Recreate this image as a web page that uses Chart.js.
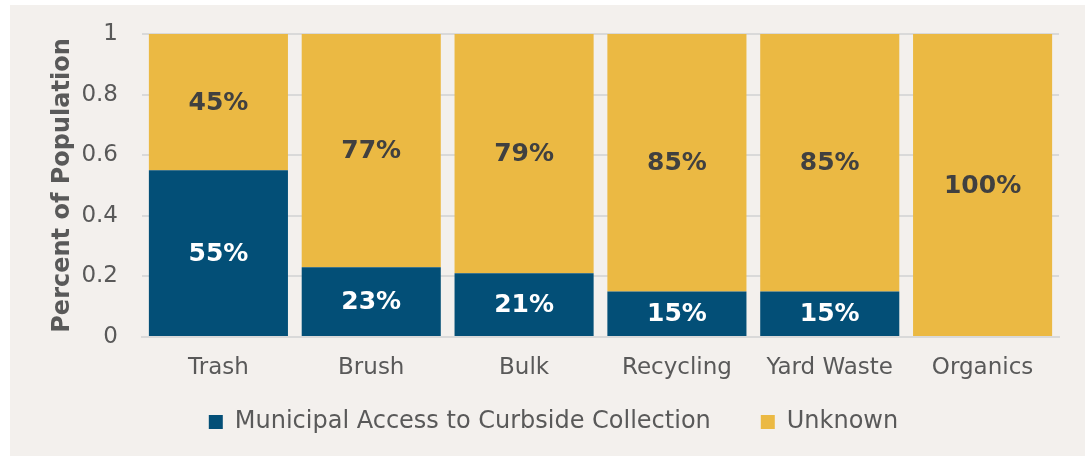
<!DOCTYPE html>
<html>
<head>
<meta charset="utf-8">
<script src="https://cdn.jsdelivr.net/npm/chart.js@4"></script>
<style>
    html, body { margin: 0; padding: 0; background: #ffffff; }
    #panel { position: absolute; left: 10px; top: 5px; width: 1075px; height: 451px; background: #f3f0ed; }
</style>
</head>
<body>
<div id="panel"><canvas id="wasteChart" width="1075" height="451"></canvas></div>
<script>
var categories = ["Trash", "Brush", "Bulk", "Recycling", "Yard Waste", "Organics"];
var municipal = [0.55, 0.23, 0.21, 0.15, 0.15, 0];
var unknown = [0.45, 0.77, 0.79, 0.85, 0.85, 1.0];
var seriesNames = ["Municipal Access to Curbside Collection", "Unknown"];

var fontFamily = "'DejaVu Sans', Verdana, sans-serif"

// draw the percent labels in the middle of each bar segment
var barLabels = {
    id: "barLabels",
    afterDatasetsDraw(chart) {
        var ctx = chart.ctx
        ctx.save()
        ctx.font = "bold 25px " + fontFamily
        ctx.textAlign = "center"
        ctx.textBaseline = "middle"
        chart.data.datasets.forEach((ds, i) => {
            var meta = chart.getDatasetMeta(i)
            meta.data.forEach((bar, j) => {
                var v = ds.data[j]
                if (!v) return
                var p = bar.getCenterPoint()
                ctx.fillStyle = i == 0 ? "#ffffff" : "#404040"
                ctx.fillText(Math.round(v * 100) + "%", p.x, p.y + 1)
            })
        })
        ctx.restore()
    }
}

// legend padding is wide for the gap between items, so pull it up a bit
var legendLift = {
    id: "legendLift",
    afterLayout(chart) {
        chart.legend.top -= 23
        chart.legend.bottom -= 23
    }
}

new Chart(document.getElementById("wasteChart").getContext("2d"), {
    type: "bar",
    data: {
        labels: categories,
        datasets: [
            { label: seriesNames[0], data: municipal, backgroundColor: "#034f77" },
            { label: seriesNames[1], data: unknown, backgroundColor: "#ebb943" },
        ],
    },
    options: {
        responsive: false,
        animation: false,
        devicePixelRatio: 1,
        barPercentage: 0.91,
        categoryPercentage: 1.0,
        layout: { padding: { top: 29, right: 26, bottom: -11, left: 38 } },
        plugins: {
            tooltip: { enabled: false },
            legend: {
                position: "bottom",
                labels: {
                    boxWidth: 14,
                    boxHeight: 14,
                    padding: 50,
                    color: "#595959",
                    font: { family: fontFamily, size: 24 },
                },
            },
        },
        scales: {
            x: {
                stacked: true,
                grid: { display: false, drawTicks: false },
                border: { color: "#d9d9d9", width: 2 },
                ticks: { color: "#595959", padding: 17, font: { family: fontFamily, size: 23 } },
                afterFit: (scale) => { scale.height = 46 },
            },
            y: {
                stacked: true,
                min: 0,
                max: 1,
                grid: { color: "#d9d9d9", lineWidth: 2, drawTicks: false },
                border: { display: false },
                ticks: {
                    stepSize: 0.2,
                    color: "#595959",
                    padding: 24,
                    font: { family: fontFamily, size: 23 },
                    callback: (v) => String(Math.round(v * 10) / 10),
                },
                title: {
                    display: true,
                    text: "Percent of Population",
                    color: "#595959",
                    padding: { top: 0, bottom: 4 },
                    font: { family: fontFamily, size: 24, weight: "bold" },
                },
                afterFit: (scale) => {
                    scale.width = 94
                    scale.paddingTop = 0
                },
            },
        },
    },
    plugins: [barLabels, legendLift],
})
</script>
</body>
</html>
